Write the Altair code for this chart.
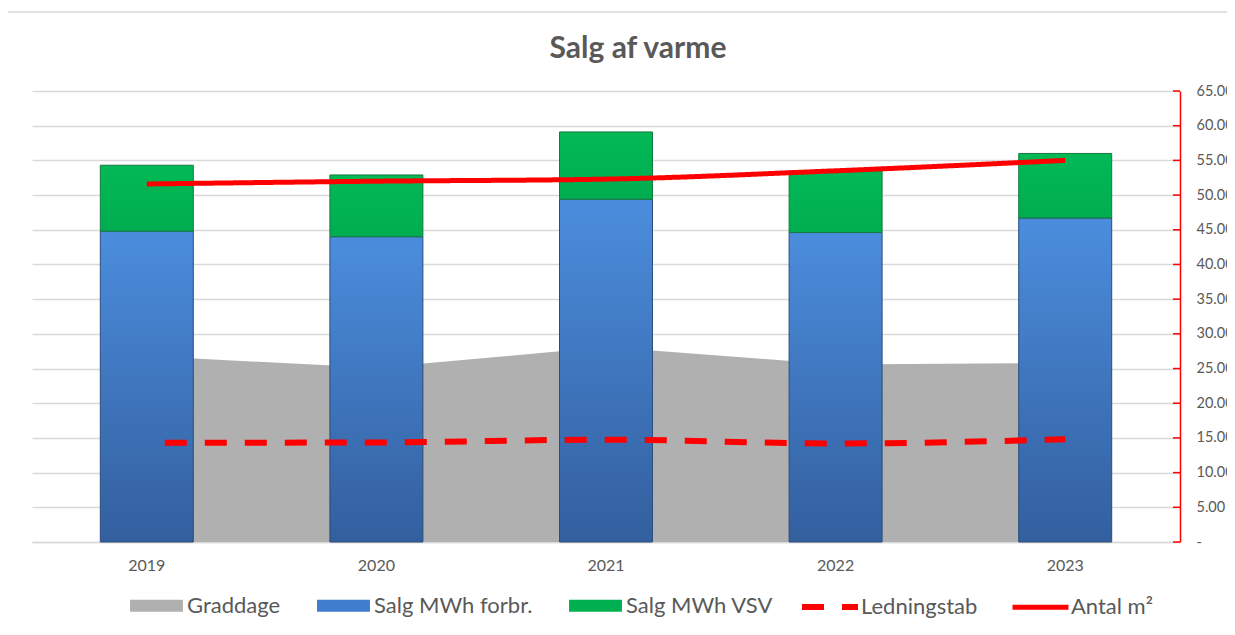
import altair as alt
import pandas as pd

# ---- data ----
years = ["2019", "2020", "2021", "2022", "2023"]
graddage = [26.8, 25.1, 28.1, 25.6, 25.8]
salg_forbr = [44.8, 44.0, 49.4, 44.6, 46.7]
salg_vsv = [9.5, 8.9, 9.7, 8.9, 9.3]
ledningstab = [14.3, 14.35, 14.75, 14.2, 14.8]
antal_m2 = [51.6, 52.0, 52.3, 53.5, 55.0]
y_ticks = [0, 5, 10, 15, 20, 25, 30, 35, 40, 45, 50, 55, 60, 65]
fill_series = ["Graddage", "Salg MWh forbr.", "Salg MWh VSV"]
line_series = ["Ledningstab", "Antal m²"]

FONT = "Lato"
TXT = "#595959"
W, H = 1148, 451

df = pd.DataFrame({"year": years, "graddage": graddage,
                   "forbr": salg_forbr, "vsv": salg_vsv})
df["total"] = df["forbr"] + df["vsv"]
df["gserie"] = "Graddage"

lines_df = pd.DataFrame({
    "year": years + years,
    "value": ledningstab + antal_m2,
    "serie": [line_series[0]] * len(years) + [line_series[1]] * len(years),
})
ticks_df = pd.DataFrame({"v": y_ticks})
frame_df = pd.DataFrame({"a": [0]})

x = alt.X("year:N", sort=years,
          scale=alt.Scale(paddingInner=0.595, paddingOuter=0.2975),
          axis=alt.Axis(title=None, labelAngle=0, ticks=False,
                        domainColor="#d9d9d9", domainWidth=1.5,
                        labelColor=TXT, labelFont=FONT, labelFontSize=16,
                        labelPadding=15))
yscale = alt.Scale(domain=[0, 65], nice=False, zero=True)
yaxis = alt.Axis(orient="right", values=y_ticks, title=None, grid=True,
                 gridColor="#d9d9d9", gridWidth=1.5,
                 domainColor="#ff0000", domainWidth=1.5, ticks=False,
                 labelPadding=16, labelAlign="left",
                 labelExpr="datum.value == 0 ? '-' : format(datum.value, '.2f')",
                 labelColor=TXT, labelFont=FONT, labelFontSize=14.5)

frame = alt.Chart(frame_df).mark_rect(
    fill="#ffffff", fillOpacity=0, stroke="#d9d9d9", strokeWidth=1.5
).encode(x=alt.value(-26), x2=alt.value(W + 80),
         y=alt.value(-79), y2=alt.value(H + 90))

area = alt.Chart(df).mark_area(opacity=1).encode(
    x=x,
    y=alt.Y("graddage:Q", scale=yscale, axis=yaxis),
    color=alt.Color("gserie:N",
                    scale=alt.Scale(domain=fill_series,
                                    range=["#b0b0b0", "#3f7dcf", "#00b050"]),
                    legend=alt.Legend(title=None, orient="none",
                                      legendX=98, legendY=488,
                                      direction="horizontal",
                                      symbolType="M-1,-0.23H1V0.23H-1Z",
                                      symbolSize=2800, symbolStrokeWidth=0,
                                      symbolOpacity=1,
                                      labelFont=FONT, labelFontSize=22,
                                      labelColor=TXT, labelOffset=4,
                                      columnPadding=36, padding=0)),
)

grad_blue = {"gradient": "linear", "x1": 0, "x2": 0, "y1": 0, "y2": 1,
             "stops": [{"offset": 0, "color": "#4b8ddd"},
                       {"offset": 1, "color": "#335f9e"}]}
grad_green = {"gradient": "linear", "x1": 0, "x2": 0, "y1": 0, "y2": 1,
              "stops": [{"offset": 0, "color": "#03b956"},
                        {"offset": 1, "color": "#00ad50"}]}

blue = alt.Chart(df).mark_bar(fill=grad_blue, stroke="#2b4d7a",
                              strokeWidth=1).encode(
    x=x, y=alt.Y("forbr:Q", scale=yscale, axis=yaxis))

green = alt.Chart(df).mark_bar(fill=grad_green, stroke="#16793f",
                               strokeWidth=1).encode(
    x=x, y=alt.Y("forbr:Q", scale=yscale, axis=yaxis), y2="total:Q")

lines = alt.Chart(lines_df).mark_line(color="#ff0000", strokeDashOffset=22,
                                      interpolate="monotone").encode(
    x=x,
    y=alt.Y("value:Q", scale=yscale, axis=yaxis),
    strokeDash=alt.StrokeDash(
        "serie:N",
        scale=alt.Scale(domain=line_series, range=[[22, 18], [1, 0]]),
        legend=alt.Legend(title=None, orient="none", legendX=767,
                          legendY=485, direction="horizontal",
                          symbolType="stroke", symbolSize=3136,
                          symbolStrokeColor="#ff0000",
                          symbolStrokeWidth=5.5,
                          labelFont=FONT, labelFontSize=22,
                          labelColor=TXT, labelOffset=0,
                          columnPadding=24, padding=0)),
    strokeWidth=alt.StrokeWidth(
        "serie:N", scale=alt.Scale(domain=line_series, range=[6, 5]),
        legend=None),
)

ticks = alt.Chart(ticks_df).mark_rule(color="#ff0000", strokeWidth=1.5).encode(
    y=alt.Y("v:Q", scale=yscale, axis=yaxis),
    x=alt.value(W - 7), x2=alt.value(W))

chart = alt.layer(frame, area, blue, green, lines, ticks).properties(
    width=W, height=H,
    title=alt.TitleParams("Salg af varme", fontSize=30, fontWeight="bold",
                          color=TXT, font=FONT, anchor="middle",
                          frame="group", baseline="alphabetic",
                          offset=-77, dx=32),
    autosize=alt.AutoSizeParams(type="none"),
    padding={"left": 24, "top": 83, "right": 47, "bottom": 76},
    background="#ffffff",
).configure_view(stroke="transparent")

chart.save("out.html", embed_options={"renderer": "svg", "actions": False})
